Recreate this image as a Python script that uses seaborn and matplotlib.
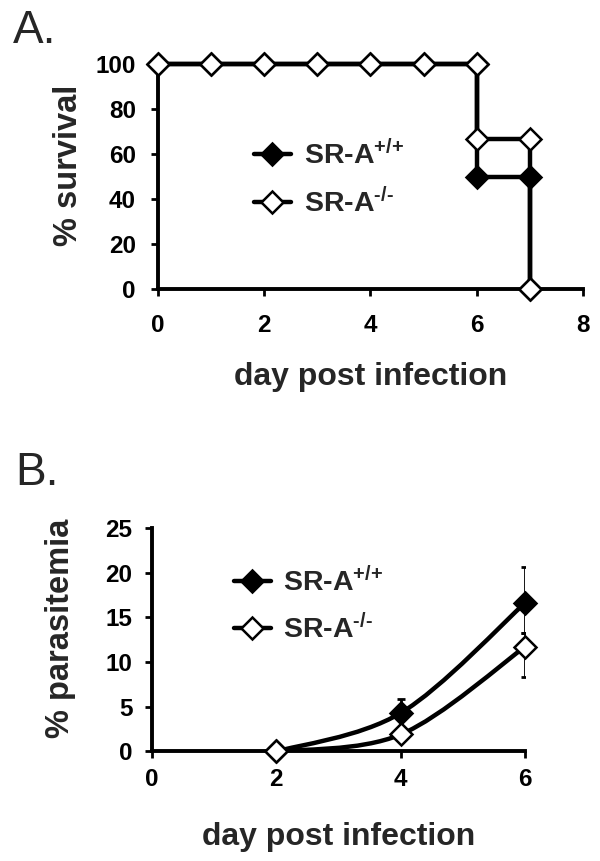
import numpy as np
import pandas as pd
import seaborn as sns
import matplotlib.pyplot as plt
from matplotlib.path import Path
from matplotlib.patches import PathPatch
from matplotlib.lines import Line2D

# ---- data: panel A (survival, step curve points) ----
surv_days_wt = [0, 1, 2, 3, 4, 5, 6, 6, 7, 7]
surv_wt = [100, 100, 100, 100, 100, 100, 100, 50, 50, 0]
surv_days_ko = [0, 1, 2, 3, 4, 5, 6, 6, 7, 7]
surv_ko = [100, 100, 100, 100, 100, 100, 100, 66.7, 66.7, 0]

# ---- data: panel B (parasitemia) ----
para_days = [2, 4, 6]
para_wt = [0, 4.3, 16.6]
para_wt_lo = [0, 0, 3.3]
para_wt_hi = [0, 1.6, 4.0]
para_ko = [0, 1.9, 11.7]
para_ko_lo = [0, 0, 3.4]
para_ko_hi = [0, 0, 1.6]

lbl_wt = r"SR-A$^{\text{+/+}}$"
lbl_ko = r"SR-A$^{\text{-/-}}$"

sns.set_theme(style="ticks")
plt.rcParams['font.family'] = ['Liberation Sans', 'DejaVu Sans']
plt.rcParams['font.weight'] = 'bold'
plt.rcParams['mathtext.fontset'] = 'custom'
plt.rcParams['mathtext.rm'] = 'Liberation Sans:bold'
plt.rcParams['mathtext.it'] = 'Liberation Sans:bold'
plt.rcParams['mathtext.bf'] = 'Liberation Sans:bold'
plt.rcParams['mathtext.default'] = 'bf'

LW = 3.2
MS = 11
MEW = 1.8


def smooth_path(xs, ys):
    # excel-style smoothed line through the data points
    pts = np.column_stack([xs, ys]).astype(float)
    n = len(pts)
    verts = [pts[0]]
    codes = [Path.MOVETO]
    for i in range(n - 1):
        p0 = pts[i - 1] if i > 0 else pts[i]
        p1, p2 = pts[i], pts[i + 1]
        p3 = pts[i + 2] if i + 2 < n else pts[i + 1]
        verts += [p1 + (p2 - p0) / 6, p2 - (p3 - p1) / 6, p2]
        codes += [Path.CURVE4] * 3
    return Path(verts, codes)


def style_axes(ax, xpad, ypad):
    sns.despine(ax=ax)
    for s in ['left', 'bottom']:
        ax.spines[s].set_linewidth(2.8)
        ax.spines[s].set_color('black')
    ax.tick_params(direction='out', length=5, width=2, color='black',
                   labelsize=17.5, labelcolor='black')
    ax.tick_params(axis='x', pad=xpad)
    ax.tick_params(axis='y', pad=ypad)
    for t in ax.get_xticklabels() + ax.get_yticklabels():
        t.set_fontweight('bold')


fig = plt.figure(figsize=(6, 8.61), dpi=100)

# ---------------- panel A ----------------
axA = fig.add_axes([0.2633, 0.6643, 0.7083, 0.2613])
dfA_wt = pd.DataFrame({'day': surv_days_wt, 'survival': surv_wt})
dfA_ko = pd.DataFrame({'day': surv_days_ko, 'survival': surv_ko})
sns.lineplot(data=dfA_wt, x='day', y='survival', ax=axA, estimator=None, sort=False,
             color='black', lw=LW, marker='D', ms=MS, mfc='black', mec='black', mew=MEW,
             clip_on=False, zorder=3)
sns.lineplot(data=dfA_ko, x='day', y='survival', ax=axA, estimator=None, sort=False,
             color='black', lw=LW, marker='D', ms=MS, mfc='white', mec='black', mew=MEW,
             clip_on=False, zorder=4)
axA.set_xlim(0, 8)
axA.set_ylim(0, 100)
axA.set_xticks([0, 2, 4, 6, 8])
axA.set_yticks([0, 20, 40, 60, 80, 100])
axA.set_xlabel('day post infection', fontsize=23, fontweight='bold', labelpad=18)
axA.set_ylabel('% survival', fontsize=23.5, fontweight='bold', labelpad=8)
axA.yaxis.label.set_y(0.55)
style_axes(axA, 13, 11)

handles = [Line2D([], [], color='black', lw=LW, marker='D', ms=MS, mfc='black', mec='black', mew=MEW),
           Line2D([], [], color='black', lw=LW, marker='D', ms=MS, mfc='white', mec='black', mew=MEW)]
axA.legend(handles, [lbl_wt, lbl_ko], loc='center left', bbox_to_anchor=(0.165, 0.49),
           frameon=False, fontsize=20.5, handlelength=1.3, handletextpad=0.45,
           labelspacing=0.6, numpoints=1)

# ---------------- panel B ----------------
axB = fig.add_axes([0.2533, 0.1272, 0.6217, 0.2596])
for yv in [para_wt, para_ko]:
    axB.add_patch(PathPatch(smooth_path(para_days, yv), fill=False, lw=LW,
                            edgecolor='black', capstyle='round', zorder=2))
axB.errorbar(para_days, para_wt, yerr=[para_wt_lo, para_wt_hi], fmt='none', ecolor='black',
             elinewidth=2, capsize=3, capthick=2, zorder=1)
axB.errorbar(para_days, para_ko, yerr=[para_ko_lo, para_ko_hi], fmt='none', ecolor='black',
             elinewidth=2, capsize=3, capthick=2, zorder=1)
dfB = pd.DataFrame({'day': para_days * 2, 'value': para_wt + para_ko,
                    'genotype': ['wt'] * 3 + ['ko'] * 3})
sns.lineplot(data=dfB[dfB.genotype == 'wt'], x='day', y='value', ax=axB, estimator=None,
             linestyle='none', marker='D', ms=MS, mfc='black', mec='black', mew=MEW,
             clip_on=False, zorder=4)
sns.lineplot(data=dfB[dfB.genotype == 'ko'], x='day', y='value', ax=axB, estimator=None,
             linestyle='none', marker='D', ms=MS, mfc='white', mec='black', mew=MEW,
             clip_on=False, zorder=5)
axB.set_xlim(0, 6)
axB.set_ylim(0, 25)
axB.set_xticks([0, 2, 4, 6])
axB.set_yticks([0, 5, 10, 15, 20, 25])
axB.set_xlabel('day post infection', fontsize=23, fontweight='bold', labelpad=22)
axB.set_ylabel('% parasitemia', fontsize=23.5, fontweight='bold', labelpad=21)
axB.yaxis.label.set_y(0.55)
style_axes(axB, 7, 9)
axB.legend(handles, [lbl_wt, lbl_ko], loc='center left', bbox_to_anchor=(0.15, 0.655),
           frameon=False, fontsize=20.5, handlelength=1.3, handletextpad=0.45,
           labelspacing=0.6, numpoints=1)

fig.text(0.022, 1 - 43 / 861, 'A.', fontsize=33, fontweight='normal', va='baseline')
fig.text(0.025, 1 - 485 / 861, 'B.', fontsize=33, fontweight='normal', va='baseline')

fig.savefig('out.png', dpi=100)
